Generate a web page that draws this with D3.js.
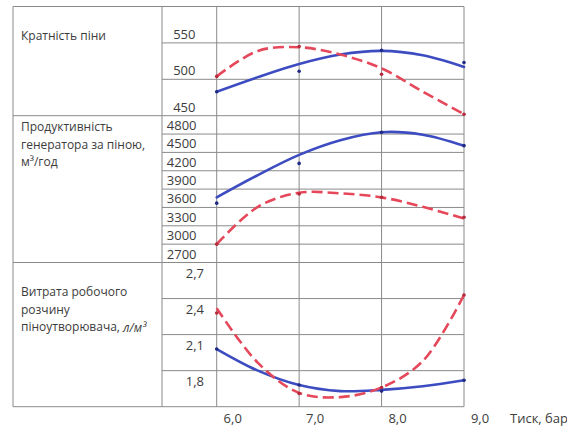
<!DOCTYPE html>
<html>
<head>
<meta charset="utf-8">
<script src="https://cdn.jsdelivr.net/npm/d3@7"></script>
<style>
  html, body { margin: 0; padding: 0; background: #ffffff; }
  svg { display: block; }
  text { font-family: "Open Sans", "Noto Sans", sans-serif; fill: #3c3c3c; }
</style>
</head>
<body>
<div id="chart"></div>
<script>
// ---------------- DATA ----------------
const pressure = [6.0, 7.0, 8.0, 9.0];              // measured points, bar
const pressureLabels = ["6,0", "7,0", "8,0", "9,0"];
const trendPressure = [6.0, 6.5, 7.0, 7.5, 8.0, 8.5, 9.0];
const xAxisTitle = "Тиск, бар";

// Panel 1 – foam expansion ratio
const expansionTitle = ["Кратність піни"];
const expansionTicks = [450, 500, 550];
const expansionBlueTrend = [483, 503, 521, 534, 539, 533, 517];
const expansionBlueMarks = [483, 511, 540, 523];
const expansionRedTrend = [504, 539, 544, 534, 515, 483, 452];
const expansionRedMarks = [504, 545, 507, 452];

// Panel 2 – generator foam capacity, m3/h
const capacityTitle = ["Продуктивність", "генератора за піною,", "м³/год"];
const capacityTicks = [2700, 3000, 3300, 3600, 3900, 4200, 4500, 4800];
const capacityBlueTrend = [3765, 4130, 4460, 4700, 4830, 4790, 4610];
const capacityBlueMarks = [3670, 4320, 4830, 4610];
const capacityRedTrend = [3000, 3610, 3840, 3830, 3765, 3610, 3420];
const capacityRedMarks = [3000, 3820, 3765, 3440];

// Panel 3 – foaming agent solution consumption, l/m3
const consumptionTitle = ["Витрата робочого", "розчину", "піноутворювача, "];
const consumptionUnit = "л/м³";
const consumptionTicks = [1.8, 2.1, 2.4, 2.7];
const consumptionBlueTrend = [1.98, 1.80, 1.68, 1.63, 1.64, 1.67, 1.72];
const consumptionBlueMarks = [1.98, 1.68, 1.63, 1.72];
const consumptionRedTrend = [2.32, 1.865, 1.615, 1.58, 1.66, 1.88, 2.43];
const consumptionRedMarks = [2.28, 1.61, 1.66, 2.43];

// ---------------- LAYOUT ----------------
const W = 567, H = 428;
const xLeft = 13, xDiv = 162;
const yTop = 6.5, yBottom = 406.7;
const blue = "#3d4cc0", red = "#e5485a";
const blueDot = "#1e2a86", redDot = "#b52a3c";
const gridColor = "#8a8a8a";

const svg = d3.select("#chart").append("svg")
  .attr("width", W).attr("height", H);

const x = d3.scaleLinear().domain([6, 9]).range([216.7, 464]);
const xRight = x(9);

const commaFmt = v => d3.format(".1f")(v).replace(".", ",");

const panels = [
  { title: expansionTitle, y0: 6.5, y1: 115.7, domain: [450, 600], ticks: expansionTicks,
    fmt: d3.format("d"), labelX: 195.5, labelDy: -9, titleY: [35],
    blueT: expansionBlueTrend, blueM: expansionBlueMarks, redT: expansionRedTrend, redM: expansionRedMarks },
  { title: capacityTitle, y0: 115.7, y1: 262.5, domain: [2700, 5100], ticks: capacityTicks,
    fmt: d3.format("d"), labelX: 196.5, labelDy: -9, titleY: [126.7, 144, 161.5],
    blueT: capacityBlueTrend, blueM: capacityBlueMarks, redT: capacityRedTrend, redM: capacityRedMarks },
  { title: consumptionTitle, unit: consumptionUnit, y0: 262.5, y1: 406.7, domain: [1.5, 2.7], ticks: consumptionTicks,
    fmt: commaFmt, labelX: 204, labelDy: 10, titleY: [291.7, 309.3, 326.7],
    blueT: consumptionBlueTrend, blueM: consumptionBlueMarks, redT: consumptionRedTrend, redM: consumptionRedMarks }
];

const gGrid = svg.append("g").attr("stroke", gridColor).attr("stroke-width", 1).attr("fill", "none");

// outer/frame lines
gGrid.append("line").attr("x1", xLeft).attr("x2", xRight).attr("y1", yTop).attr("y2", yTop);
gGrid.append("line").attr("x1", xLeft).attr("x2", xRight).attr("y1", yBottom).attr("y2", yBottom);
[xLeft, xDiv].forEach(xx => {
  gGrid.append("line").attr("x1", xx).attr("x2", xx).attr("y1", yTop).attr("y2", yBottom);
});
pressure.forEach(p => {
  gGrid.append("line").attr("x1", x(p)).attr("x2", x(p)).attr("y1", yTop).attr("y2", yBottom);
});

const line = d3.line().curve(d3.curveCatmullRom.alpha(0.5));

panels.forEach((p, i) => {
  const y = d3.scaleLinear().domain(p.domain).range([p.y1, p.y0]);
  if (i > 0) {
    gGrid.append("line").attr("x1", xLeft).attr("x2", xRight).attr("y1", p.y0).attr("y2", p.y0);
  }
  p.ticks.forEach(t => {
    const yy = y(t);
    if (yy > p.y0 + 2 && yy < p.y1 - 2) {
      gGrid.append("line").attr("x1", xDiv).attr("x2", xRight).attr("y1", yy).attr("y2", yy);
    }
  });
  svg.append("g").selectAll("text").data(p.ticks).join("text")
    .attr("x", p.labelX)
    .attr("y", d => y(d) + p.labelDy)
    .attr("text-anchor", "end")
    .attr("dominant-baseline", "central")
    .style("font-size", "13px")
    .text(d => p.fmt(d));
  const tg = svg.append("g");
  p.title.forEach((s, k) => {
    const t = tg.append("text")
      .attr("x", 21).attr("y", p.titleY[k])
      .attr("dominant-baseline", "central")
      .style("font-size", "12px")
      .text(s);
    if (p.unit && k === p.title.length - 1) {
      t.append("tspan").style("font-style", "italic").text(p.unit);
    }
  });
  const blueData = trendPressure.map((v, k) => [x(v), y(p.blueT[k])]);
  const redData = trendPressure.map((v, k) => [x(v), y(p.redT[k])]);
  svg.append("path").attr("d", line(blueData)).attr("fill", "none")
    .attr("stroke", blue).attr("stroke-width", 2.6).attr("stroke-linecap", "round");
  svg.append("path").attr("d", line(redData)).attr("fill", "none")
    .attr("stroke", red).attr("stroke-width", 2.6).attr("stroke-dasharray", "11,5");
  svg.append("g").selectAll("circle").data(p.blueM).join("circle")
    .attr("cx", (d, k) => x(pressure[k])).attr("cy", d => y(d)).attr("r", 1.8).attr("fill", blueDot);
  svg.append("g").selectAll("circle").data(p.redM).join("circle")
    .attr("cx", (d, k) => x(pressure[k])).attr("cy", d => y(d)).attr("r", 1.8).attr("fill", redDot);
});

svg.append("g").selectAll("text").data(pressure).join("text")
  .attr("x", d => x(d) + 16).attr("y", 417.5)
  .attr("text-anchor", "middle").attr("dominant-baseline", "central")
  .style("font-size", "13px")
  .text((d, k) => pressureLabels[k]);
svg.append("text").attr("x", 510).attr("y", 417.5)
  .attr("dominant-baseline", "central").style("font-size", "13px")
  .text(xAxisTitle);
</script>
</body>
</html>
